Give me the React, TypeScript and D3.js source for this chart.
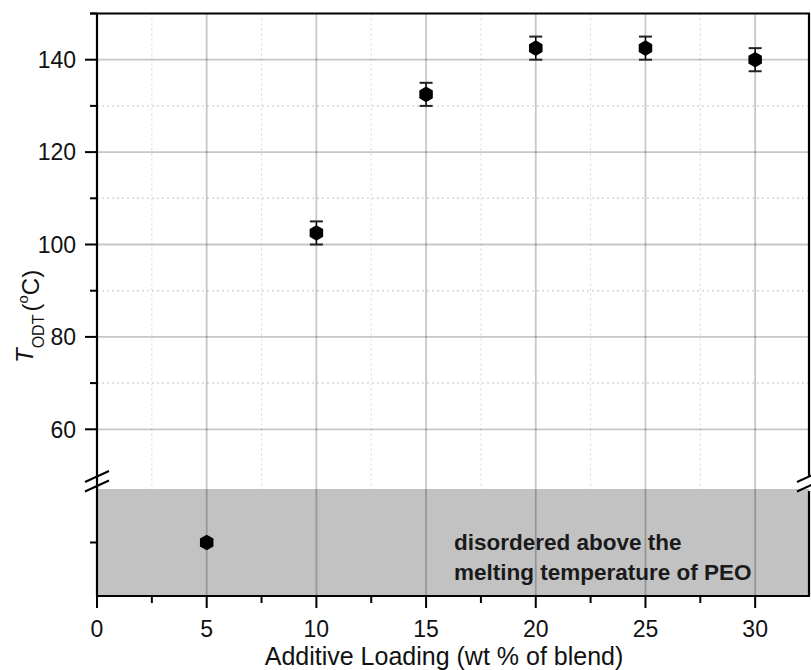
import React from "react";
import * as d3 from "d3";

// ---- data ----
const loadings = [5, 10, 15, 20, 25, 30];
const todt = [NaN, 102.5, 132.5, 142.5, 142.5, 140];
const todtErr = [0, 2.5, 2.5, 2.5, 2.5, 2.5];
const disordered = [true, false, false, false, false, false];
const disorderedLevel = 1;
const xTicks = [0, 5, 10, 15, 20, 25, 30];
const xMinorTicks = [2.5, 7.5, 12.5, 17.5, 22.5, 27.5, 32.5];
const yTicks = [60, 80, 100, 120, 140];
const yMinorTicks = [70, 90, 110, 130, 150];
const annotationLines = ["disordered above the", "melting temperature of PEO"];
const xTitle = "Additive Loading (wt % of blend)";

const W = 811;
const H = 670;
const FONT = "'Liberation Sans', Arial, sans-serif";

function hexagon(cx: number, cy: number, r: number) {
  const pts: string[] = [];
  for (let i = 0; i < 6; i++) {
    const a = Math.PI / 2 + (i * Math.PI) / 3;
    pts.push(`${cx + r * Math.cos(a)},${cy + r * Math.sin(a)}`);
  }
  return pts.join(" ");
}

export default function App() {
  const x = d3.scaleLinear().domain([0, 32.5]).range([97, 810]);
  const yU = d3.scaleLinear().domain([50, 150]).range([475.5, 13.5]);
  const yL = d3.scaleLinear().domain([0, 2]).range([596, 489]);

  const left = x(0);
  const right = x(32.5) - 1;
  const top = yU(150);
  const bottom = yL(0);
  const breakTop = yU(50);
  const grayTop = yL(2);

  const gridColor = "rgba(0,0,0,0.22)";
  const minorColor = "rgba(0,0,0,0.16)";

  const slash = (cx: number, cy: number, key: string) => (
    <line
      key={key}
      x1={cx - 12}
      y1={cy + 5.5}
      x2={cx + 12}
      y2={cy - 5.5}
      stroke="#000"
      strokeWidth={2}
    />
  );

  return (
    <svg
      width={W}
      height={H}
      style={{ position: "absolute", left: 0, top: 0, background: "#fff" }}
      fontFamily={FONT}
    >
      {/* gray disordered region */}
      <rect
        x={left}
        y={grayTop}
        width={right - left}
        height={bottom - grayTop}
        fill="#c2c2c2"
      />

      {/* minor vertical grid (dotted) */}
      {xMinorTicks
        .filter((t) => x(t) < right - 2)
        .map((t) => (
          <line
            key={"xm" + t}
            x1={x(t)}
            x2={x(t)}
            y1={top}
            y2={grayTop}
            stroke={minorColor}
            strokeWidth={1}
            strokeDasharray="2,3"
          />
        ))}
      {/* minor horizontal grid (dotted) */}
      {yMinorTicks
        .filter((t) => t < 150)
        .map((t) => (
          <line
            key={"ym" + t}
            x1={left}
            x2={right}
            y1={yU(t)}
            y2={yU(t)}
            stroke={minorColor}
            strokeWidth={1.5}
            strokeDasharray="2,3"
          />
        ))}
      {/* major horizontal grid */}
      {yTicks.map((t) => (
        <line
          key={"yg" + t}
          x1={left}
          x2={right}
          y1={yU(t)}
          y2={yU(t)}
          stroke={gridColor}
          strokeWidth={1.8}
        />
      ))}
      {/* major vertical grid */}
      {xTicks
        .filter((t) => t > 0)
        .map((t) => (
          <line
            key={"xg" + t}
            x1={x(t)}
            x2={x(t)}
            y1={top}
            y2={bottom}
            stroke={gridColor}
            strokeWidth={1.8}
          />
        ))}

      {/* axes frame */}
      <line x1={left} x2={left} y1={top} y2={bottom} stroke="#000" strokeWidth={2.2} />
      <line x1={right} x2={right} y1={top} y2={breakTop + 1} stroke="#000" strokeWidth={2.2} />
      <line x1={right} x2={right} y1={grayTop + 2} y2={bottom} stroke="#000" strokeWidth={2.2} />
      <line x1={left - 7} x2={right + 1} y1={top} y2={top} stroke="#000" strokeWidth={2.2} />
      <line x1={left - 1} x2={right + 1} y1={bottom} y2={bottom} stroke="#000" strokeWidth={2.2} />

      {/* break marks */}
      {slash(left, breakTop + 1, "bl1")}
      {slash(left, breakTop + 10.5, "bl2")}
      {slash(right, breakTop + 1, "br1")}
      {slash(right, breakTop + 10.5, "br2")}

      {/* y ticks */}
      {yTicks.map((t) => (
        <g key={"yt" + t}>
          <line x1={left - 12} x2={left} y1={yU(t)} y2={yU(t)} stroke="#000" strokeWidth={2} />
          <text
            x={left - 21}
            y={yU(t) + 8.3}
            textAnchor="end"
            fontSize={23}
            fill="#111"
          >
            {t}
          </text>
        </g>
      ))}
      {yMinorTicks.map((t) => (
        <line key={"ymt" + t} x1={left - 7} x2={left} y1={yU(t)} y2={yU(t)} stroke="#000" strokeWidth={2} />
      ))}
      <line
        x1={left - 7}
        x2={left}
        y1={yL(disorderedLevel)}
        y2={yL(disorderedLevel)}
        stroke="#000"
        strokeWidth={2}
      />

      {/* x ticks */}
      {xTicks.map((t) => (
        <g key={"xt" + t}>
          <line x1={x(t)} x2={x(t)} y1={bottom} y2={bottom + 12} stroke="#000" strokeWidth={2} />
          <text x={x(t)} y={637} textAnchor="middle" fontSize={23} fill="#111">
            {t}
          </text>
        </g>
      ))}
      {xMinorTicks
        .filter((t) => x(t) < right - 2)
        .map((t) => (
          <line key={"xmt" + t} x1={x(t)} x2={x(t)} y1={bottom} y2={bottom + 7} stroke="#000" strokeWidth={2} />
        ))}

      {/* annotation */}
      <text x={454} y={550} fontSize={22.5} fontWeight="bold" fill="#1a1a1a">
        {annotationLines.map((l, i) => (
          <tspan key={i} x={454} dy={i === 0 ? 0 : 30}>
            {l}
          </tspan>
        ))}
      </text>

      {/* error bars and markers */}
      {loadings.map((l, i) => {
        const cx = x(l);
        if (disordered[i]) {
          const cy = yL(disorderedLevel);
          return <polygon key={"p" + i} points={hexagon(cx, cy, 7.8)} fill="#000" />;
        }
        const cy = yU(todt[i]);
        const yHi = yU(todt[i] + todtErr[i]);
        const yLo = yU(todt[i] - todtErr[i]);
        return (
          <g key={"p" + i}>
            <line x1={cx} x2={cx} y1={yHi} y2={yLo} stroke="#000" strokeWidth={1.5} />
            <line x1={cx - 6.5} x2={cx + 6.5} y1={yHi} y2={yHi} stroke="#222" strokeWidth={2} />
            <line x1={cx - 6.5} x2={cx + 6.5} y1={yLo} y2={yLo} stroke="#222" strokeWidth={2} />
            <polygon points={hexagon(cx, cy, 7.8)} fill="#000" />
          </g>
        );
      })}

      {/* y title */}
      <text
        transform={`translate(33, 363) rotate(-90)`}
        fontSize={24}
        fill="#111"
      >
        <tspan fontStyle="italic">T</tspan>
        <tspan fontSize={16} dy={11}>ODT</tspan>
        <tspan dy={-5} dx={3}>(</tspan>
        <tspan fontSize={15} dy={-11}>o</tspan>
        <tspan dy={11}>C)</tspan>
      </text>

      {/* x title */}
      <text x={444} y={665} textAnchor="middle" fontSize={25} fill="#111">
        {xTitle}
      </text>
    </svg>
  );
}
